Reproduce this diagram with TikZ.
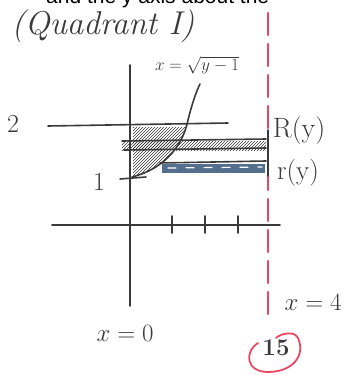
\documentclass[tikz,border=0pt]{standalone}
\usepackage{amsmath,amssymb}
\usepackage{xcolor}
\usepackage{fontspec}
\newfontfamily\typed{Liberation Sans}
\usetikzlibrary{arrows.meta, positioning, patterns, calc}

\definecolor{pencil}{RGB}{58,58,58}
\definecolor{penred}{RGB}{232,72,96}
\definecolor{penblue}{RGB}{84,110,142}

\begin{document}
\begin{tikzpicture}[x=1pt, y=-1pt, line cap=round, line join=round,
  pen/.style={draw=pencil, line width=1.6pt},
  hand/.style={text=pencil, inner sep=0pt, font=\fontsize{22}{24}\selectfont},
  hatched/.style={pattern=north east lines, pattern color=pencil},
  ]
  \useasboundingbox (0,0) rectangle (344,375);
  % Cut-off printed line at the top
  \node[anchor=base west, inner sep=0pt, font=\typed\fontsize{21}{23}\selectfont] (cut) at (46,3) {and the y axis about the};
  \node[hand, font=\itshape\fontsize{33}{35}\selectfont] (quad) at (103,26) {(Quadrant I)};

  % Axes
  \coordinate (ytop) at (130,65);
  \coordinate (ybot) at (130,306);
  \coordinate (xleft) at (52,225);
  \coordinate (xright) at (280,225);
  \draw[pen] (ytop) -- (ybot);
  \draw[pen] (xleft) -- (xright);
  \foreach \tx in {172,205,238} {
    \draw[pen] (\tx,216) -- (\tx,233);
  }

  % Lines y=2 and y=1
  \coordinate (twoL) at (48,126);
  \coordinate (twoR) at (228,123);
  \draw[pen] (twoL) -- (twoR);
  \draw[pen] (120,179) -- (146,177);
  \node[hand, font=\fontsize{26}{28}\selectfont] (two) at (13,124) {2};
  \node[hand, font=\fontsize{26}{28}\selectfont] (one) at (99,182) {1};

  % Region between the y axis and the curve
  \fill[hatched] (133,127) -- (186,127)
    .. controls (178,150) and (160,170) .. (133,176) -- cycle;
  \draw[pen] (132,177) .. controls (160,170) and (182,150) .. (188,120)
    .. controls (192,104) and (196,92) .. (200,84);
  \node[hand, font=\fontsize{19}{21}\selectfont] (curvelbl) at (197,65) {$x=\sqrt{y-1}$};

  % Axis of revolution x=4
  \draw[penred, line width=2.2pt, dash pattern=on 22pt off 9pt] (268,13) -- (268,322);
  \draw[pencil, line width=1.4pt] (268,130) -- (268,176);

  % Washer strips
  \fill[hatched] (122,141) rectangle (266,150);
  \draw[pen] (122,141) -- (266,139);
  \draw[pen] (124,150) -- (266,148);
  \fill[penblue] (162,164) rectangle (265,173);
  \draw[white, line width=1.2pt, dash pattern=on 8pt off 10pt] (168,168) -- (262,167);
  \draw[pen] (160,163) -- (266,161);
  \node[hand, font=\fontsize{28}{30}\selectfont] (Rlbl) at (299,131) {R(y)};
  \node[hand, font=\fontsize{27}{29}\selectfont] (rlbl) at (298,173) {r(y)};

  % Bottom labels
  \node[hand, font=\fontsize{23}{25}\selectfont] (xzero) at (125,333) {$x=0$};
  \node[hand, font=\fontsize{26}{28}\selectfont] (xfour) at (313,302) {$x=4$};
  \node[hand, font=\bfseries\fontsize{24}{26}\selectfont] (page) at (276,348) {15};
  \draw[penred, line width=1.8pt] (258,343) .. controls (244,352) and (246,372) .. (268,372)
    .. controls (292,372) and (306,356) .. (298,338) .. controls (294,330) and (280,334) .. (276,338);
\end{tikzpicture}
\end{document}
